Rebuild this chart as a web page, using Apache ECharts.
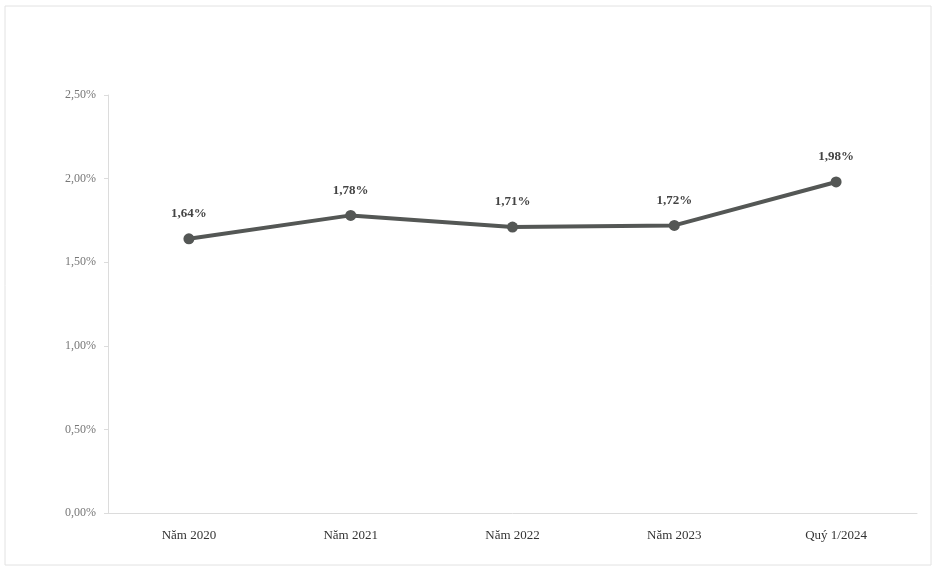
<!DOCTYPE html>
<html><head><meta charset="utf-8">
<script src="https://cdn.jsdelivr.net/npm/echarts@6/dist/echarts.min.js"></script>
<style>html,body{margin:0;padding:0;background:#fff}#c{width:936px;height:574px}</style>
</head><body><div id="c"></div>
<script>
const categories = ["Năm 2020", "Năm 2021", "Năm 2022", "Năm 2023", "Quý 1/2024"];
const values = [1.64, 1.78, 1.71, 1.72, 1.98];
const yTicks = [0, 0.5, 1.0, 1.5, 2.0, 2.5];

const fmt = v => v.toFixed(2).replace('.', ',') + '%';
const chart = echarts.init(document.getElementById('c'));
chart.setOption({
  animation: false,
  backgroundColor: '#fff',
  graphic: [{
    type: 'rect', shape: {x: 5, y: 6, width: 926, height: 559},
    style: {fill: 'none', stroke: '#e2e2e2', lineWidth: 1}
  }],
  grid: {left: 108, right: 19, top: 95, bottom: 61},
  xAxis: {
    type: 'category', data: categories, boundaryGap: true,
    axisLine: {lineStyle: {color: '#dcdcdc'}},
    axisTick: {show: false},
    axisLabel: {fontFamily: 'Liberation Serif', fontSize: 13, color: '#333', margin: 16}
  },
  yAxis: {
    type: 'value', min: yTicks[0], max: yTicks[yTicks.length - 1], interval: 0.5,
    axisLine: {show: true, lineStyle: {color: '#dcdcdc'}},
    axisTick: {show: true, length: 4, lineStyle: {color: '#dcdcdc'}},
    splitLine: {show: false},
    axisLabel: {fontFamily: 'Liberation Serif', fontSize: 12, color: '#777', margin: 12, formatter: fmt}
  },
  series: [{
    type: 'line', data: values,
    symbol: 'circle', symbolSize: 11,
    lineStyle: {color: '#545755', width: 4},
    itemStyle: {color: '#545755'},
    label: {show: true, position: 'top', distance: 13, formatter: p => fmt(p.value),
      fontFamily: 'Liberation Serif', fontSize: 13, fontWeight: 'bold', color: '#444'}
  }]
});
</script></body></html>
